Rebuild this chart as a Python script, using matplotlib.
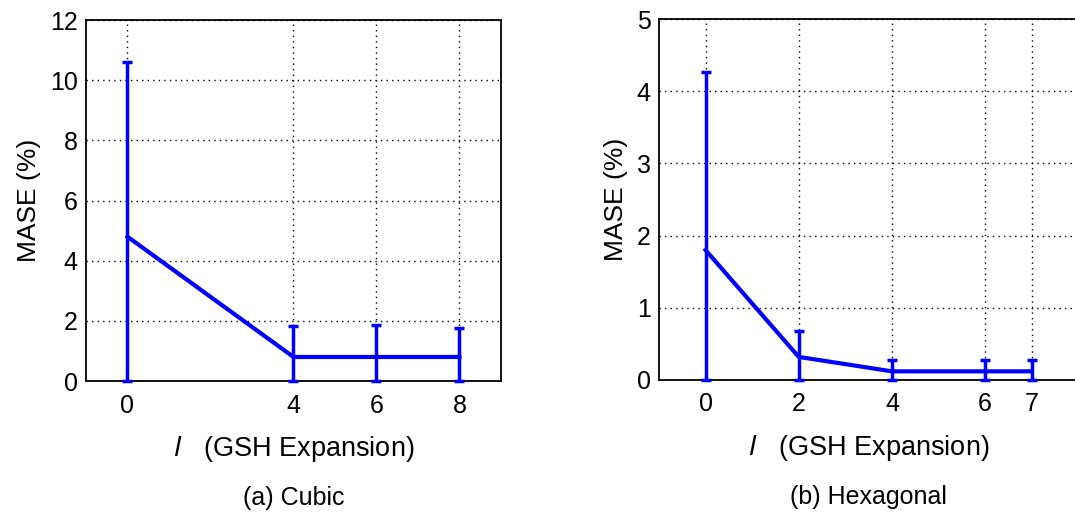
import matplotlib
matplotlib.use("Agg")
import matplotlib.pyplot as plt
import numpy as np

# (a) Cubic
cubic_l = [0, 4, 6, 8]
cubic_mase = [4.8, 0.8, 0.8, 0.8]
cubic_upper = [10.6, 1.82, 1.85, 1.78]

# (b) Hexagonal
hex_l = [0, 2, 4, 6, 7]
hex_mase = [1.8, 0.32, 0.12, 0.12, 0.12]
hex_upper = [4.27, 0.68, 0.28, 0.28, 0.28]

plt.rcParams['font.family'] = ['Liberation Sans', 'DejaVu Sans']

fig = plt.figure(figsize=(10.75, 5.17), dpi=100)
ax1 = fig.add_axes([0.080, 0.263, 0.386, 0.698])
ax2 = fig.add_axes([0.613, 0.265, 0.390, 0.698])


def draw(ax, l, mase, upper, ylim, yticks, xticks, xlim, caption):
    mase = np.array(mase)
    yerr = [mase - 0.0, np.array(upper) - mase]
    ax.errorbar(l, mase, yerr=yerr, color='#0000ff', lw=3, elinewidth=2.5,
                capsize=3.5, capthick=2.5, clip_on=False, zorder=3)
    ax.set_xlim(*xlim)
    ax.set_ylim(*ylim)
    ax.set_xticks(xticks)
    ax.set_yticks(yticks)
    ax.grid(True, color='black', linestyle=(0, (1, 3)), linewidth=1.0)
    ax.tick_params(labelsize=18, direction='in', length=0)
    ax.tick_params(axis='x', pad=9)
    ax.tick_params(axis='y', pad=6)
    for s in ax.spines.values():
        s.set_linewidth(1.3)
    ax.set_ylabel('MASE (%)', fontsize=19, labelpad=6)
    ax.set_xlabel(r'$l$   (GSH Expansion)', fontsize=19.5, labelpad=12)
    ax.text(0.5, -0.324, caption, transform=ax.transAxes, ha='center', va='center',
            fontsize=18)


draw(ax1, cubic_l, cubic_mase, cubic_upper, (0, 12), range(0, 13, 2),
     cubic_l, (-1, 9), '(a) Cubic')
draw(ax2, hex_l, hex_mase, hex_upper, (0, 5), range(0, 6),
     hex_l, (-1, 8), '(b) Hexagonal')

fig.savefig('out.png', dpi=100)
